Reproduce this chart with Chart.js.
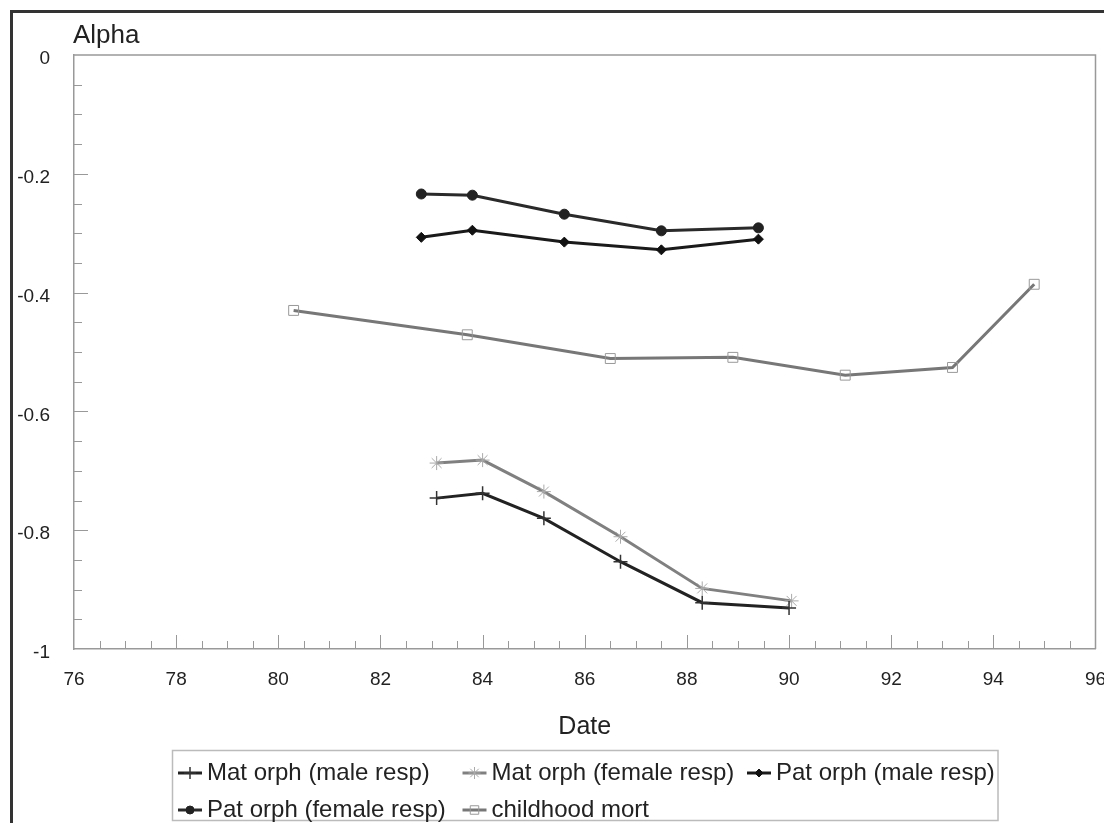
<!DOCTYPE html>
<html lang="en">
<head>
<meta charset="UTF-8">
<title>Alpha by Date</title>
<script src="https://cdn.jsdelivr.net/npm/chart.js"></script>
<style>
    body { margin: 0; background: #fff; }
    #wrap { width: 1104px; height: 823px; overflow: hidden; }
</style>
</head>
<body>
<div id="wrap"><canvas id="alphaChart" width="1104" height="823"></canvas></div>
<script>
// values
const matMaleDates = [83.1, 84.0, 85.2, 86.7, 88.3, 90.0];
const matMaleAlpha = [-0.746, -0.738, -0.780, -0.853, -0.922, -0.931];
const matFemaleDates = [83.1, 84.0, 85.2, 86.7, 88.3, 90.05];
const matFemaleAlpha = [-0.687, -0.682, -0.735, -0.811, -0.898, -0.919];
const patMaleDates = [82.8, 83.8, 85.6, 87.5, 89.4];
const patMaleAlpha = [-0.307, -0.295, -0.315, -0.328, -0.310];
const patFemaleDates = [82.8, 83.8, 85.6, 87.5, 89.4];
const patFemaleAlpha = [-0.234, -0.236, -0.268, -0.296, -0.291];
const mortDates = [80.3, 83.7, 86.5, 88.9, 91.1, 93.2, 94.8];
const mortAlpha = [-0.430, -0.471, -0.511, -0.509, -0.539, -0.526, -0.386];

const seriesNames = ["Mat orph (male resp)", "Mat orph (female resp)", "Pat orph (male resp)",
                     "Pat orph (female resp)", "childhood mort"];
const xTickValues = [76, 78, 80, 82, 84, 86, 88, 90, 92, 94, 96];
const yTickValues = [0, -0.2, -0.4, -0.6, -0.8, -1];
const yTickLabels = ["0", "-0.2", "-0.4", "-0.6", "-0.8", "-1"];

const FONT = "'Liberation Sans', Arial, sans-serif";
const toPoints = (xs, ys) => xs.map((x, i) => ({ x: x, y: ys[i] }));

function series(name, xs, ys, line, style, radius, fill, stroke, bw) {
    return {
        label: name,
        data: toPoints(xs, ys),
        borderColor: line,
        borderWidth: 3,
        tension: 0,
        pointStyle: style,
        pointRadius: radius,
        pointHoverRadius: radius,
        pointBackgroundColor: fill,
        pointBorderColor: stroke,
        pointBorderWidth: bw
    };
}

const datasets = [
    series(seriesNames[0], matMaleDates, matMaleAlpha, "#222", "cross", 7, "#222", "#333", 1.5),
    series(seriesNames[1], matFemaleDates, matFemaleAlpha, "#808080", "star", 7, "rgba(0,0,0,0)", "#aaa", 1),
    series(seriesNames[2], patMaleDates, patMaleAlpha, "#1a1a1a", "rectRot", 5, "#111", "#111", 1),
    series(seriesNames[3], patFemaleDates, patFemaleAlpha, "#2a2a2a", "circle", 5, "#222", "#222", 1),
    series(seriesNames[4], mortDates, mortAlpha, "#777", "rect", 7, "rgba(0,0,0,0)", "#999", 1)
];

// frame, inward tick marks, "Alpha" label and boxed legend
const decorations = {
    id: "decorations",
    beforeDraw(chart) {
        const ctx = chart.ctx;
        ctx.save();
        ctx.fillStyle = "#fff";
        ctx.fillRect(0, 0, chart.width, chart.height);
        ctx.strokeStyle = "#333";
        ctx.lineWidth = 3;
        ctx.strokeRect(11.5, 11.5, chart.width + 40, chart.height + 40);
        ctx.restore();
    },
    afterDraw(chart) {
        const { ctx, chartArea: a } = chart;
        const x = chart.scales.x, y = chart.scales.y;
        ctx.save();
        ctx.strokeStyle = "#999";
        ctx.lineWidth = 1.5;
        ctx.beginPath();
        ctx.moveTo(a.left, a.top);
        ctx.lineTo(a.right, a.top);
        ctx.lineTo(a.right, a.bottom);
        ctx.stroke();

        ctx.lineWidth = 1;
        ctx.beginPath();
        for (let v = 76.5; v < 96; v += 0.5) {
            const px = Math.round(x.getPixelForValue(v)) + 0.5;
            const len = v % 2 === 0 ? 14 : 8;
            ctx.moveTo(px, a.bottom);
            ctx.lineTo(px, a.bottom - len);
        }
        for (let k = 1; k < 20; k++) {
            const py = Math.round(y.getPixelForValue(-k * 0.05)) + 0.5;
            const len = k % 4 === 0 ? 14 : 8;
            ctx.moveTo(a.left, py);
            ctx.lineTo(a.left + len, py);
        }
        ctx.stroke();

        ctx.fillStyle = "#222";
        ctx.font = "26px " + FONT;
        ctx.textAlign = "left";
        ctx.textBaseline = "alphabetic";
        ctx.fillText("Alpha", a.left - 1, 43);

        // legend
        ctx.strokeStyle = "#bbb";
        ctx.lineWidth = 1.5;
        ctx.strokeRect(172.5, 750.5, 825.5, 70);
        ctx.font = "24px " + FONT;
        ctx.textBaseline = "middle";
        chart.data.datasets.forEach((ds, i) => {
            const x0 = 178 + (i % 3) * 284.5;
            const yc = 773 + Math.floor(i / 3) * 37;
            ctx.strokeStyle = ds.borderColor;
            ctx.lineWidth = 3;
            ctx.beginPath();
            ctx.moveTo(x0, yc);
            ctx.lineTo(x0 + 24, yc);
            ctx.stroke();
            ctx.fillStyle = ds.pointBackgroundColor;
            ctx.strokeStyle = ds.pointBorderColor;
            ctx.lineWidth = ds.pointBorderWidth;
            Chart.helpers.drawPoint(ctx, {
                pointStyle: ds.pointStyle, radius: ds.pointRadius - 1,
                borderWidth: ds.pointBorderWidth, rotation: 0
            }, x0 + 12, yc);
            ctx.fillStyle = "#222";
            ctx.fillText(ds.label, x0 + 29, yc);
        });
        ctx.restore();
    }
};

new Chart(document.getElementById("alphaChart"), {
    type: "line",
    data: { datasets: datasets },
    plugins: [decorations],
    options: {
        responsive: false,
        animation: false,
        devicePixelRatio: 1,
        layout: { padding: { left: 0, top: 55, right: 8, bottom: 81 } },
        plugins: {
            legend: { display: false },
            tooltip: { enabled: false }
        },
        scales: {
            x: {
                type: "linear",
                min: 76,
                max: 96,
                afterBuildTicks: s => { s.ticks = xTickValues.map(v => ({ value: v })); },
                afterFit: s => { s.height = 93; s.paddingLeft = 0; s.paddingRight = 0; },
                grid: { display: false, drawTicks: false },
                border: { display: true, color: "#999", width: 1.5 },
                ticks: {
                    color: "#222",
                    font: { family: FONT, size: 19 },
                    padding: 19,
                    maxRotation: 0,
                    autoSkip: false
                },
                title: {
                    display: true,
                    text: "Date",
                    color: "#222",
                    font: { family: FONT, size: 25 },
                    padding: { top: 0, bottom: 0 }
                }
            },
            y: {
                type: "linear",
                min: -1,
                max: 0,
                afterBuildTicks: s => { s.ticks = yTickValues.map(v => ({ value: v })); },
                afterFit: s => { s.width = 74; s.paddingTop = 0; s.paddingBottom = 0; },
                grid: { display: false, drawTicks: false },
                border: { display: true, color: "#999", width: 1.5 },
                ticks: {
                    color: "#222",
                    font: { family: FONT, size: 19 },
                    padding: 24,
                    labelOffset: 4,
                    autoSkip: false,
                    callback: (v, i) => yTickLabels[i]
                }
            }
        }
    }
});
</script>
</body>
</html>
